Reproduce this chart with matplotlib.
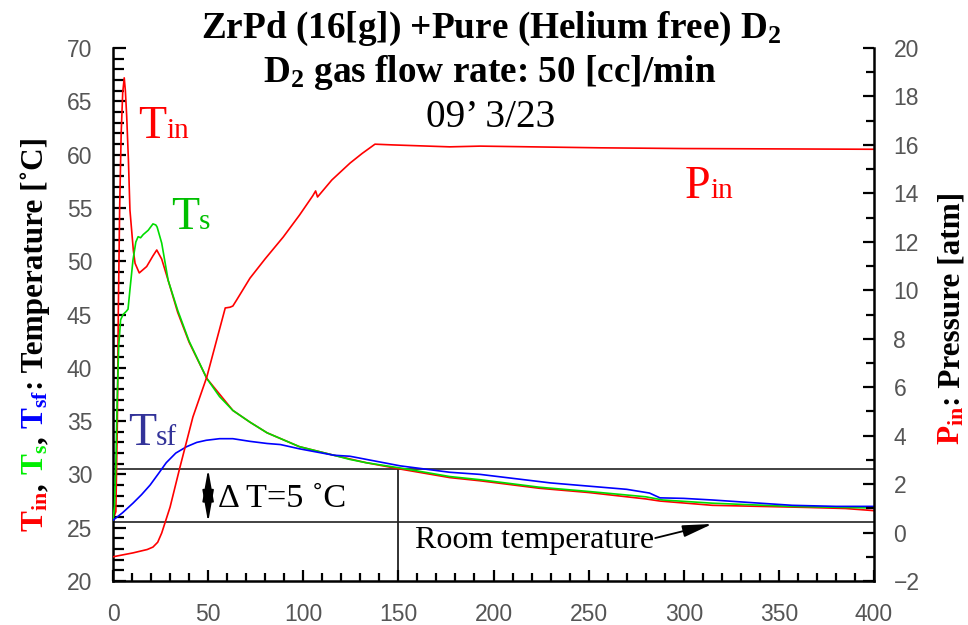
import matplotlib
matplotlib.use("Agg")
import matplotlib.pyplot as plt
from matplotlib.ticker import MultipleLocator

plt.rcParams['mathtext.fontset'] = 'custom'
plt.rcParams['mathtext.rm'] = 'Liberation Serif'
plt.rcParams['mathtext.bf'] = 'Liberation Serif:bold'
plt.rcParams['mathtext.it'] = 'Liberation Serif:italic'

# ---------------- data ----------------
t_in_time = [0, 1.5, 2.3, 2.8, 3.5, 4.3, 5.1, 5.9, 6.5, 7.2, 8.1, 8.9, 10.7, 11.6, 13.8,
             17.7, 21, 23, 25.6, 29, 34, 40, 49.3, 63, 72, 81, 98, 116, 133, 151, 177,
             193, 224, 250, 280, 287.5, 315, 340, 365, 385, 400]
t_in_vals = [25.8, 26.5, 35, 45.4, 55, 62, 65.8, 67.2, 66, 63.6, 59.5, 54.8, 51, 49.8, 48.9,
             49.5, 50.5, 51.05, 50.2, 48.2, 45.2, 42.4, 39.0, 36.0, 34.9, 33.9, 32.6, 31.8, 31.1,
             30.5, 29.7, 29.4, 28.7, 28.3, 27.7, 27.5, 27.1, 27.0, 26.9, 26.8, 26.6]

t_s_time = [0, 0.8, 1.5, 2.2, 3, 4, 5.3, 7, 7.9, 9, 10.5, 12, 13.2, 14.5, 15.9, 18.5, 21,
            22.5, 23.2, 25.6, 29, 34, 40, 49.3, 56, 63, 72, 81, 98, 116, 124.6, 133, 151,
            177, 193, 224, 250, 280, 289, 315, 356, 400]
t_s_vals = [25.7, 27, 31, 37, 42, 44.5, 45, 45.3, 45.5, 47.5, 50.1, 51.8, 52.3, 52.2, 52.5,
            52.9, 53.5, 53.4, 53.2, 51.7, 48.2, 45.4, 42.5, 39.0, 37.3, 36.0, 34.9, 33.9, 32.6,
            31.8, 31.4, 31.1, 30.6, 29.8, 29.5, 28.8, 28.4, 27.9, 27.6, 27.3, 27.0, 26.85]

t_sf_time = [0, 5, 10.5, 15, 19.5, 24, 28, 33, 38.7, 44, 49, 56, 63, 72, 81, 88, 98, 116,
             124.6, 151, 177, 193, 230, 250, 270, 282, 287.5, 300, 315, 340, 357, 380, 400]
t_sf_vals = [25.7, 26.4, 27.3, 28.1, 29.0, 30.1, 31.1, 32.0, 32.6, 33.0, 33.2, 33.35, 33.35,
             33.1, 32.9, 32.8, 32.4, 31.8, 31.7, 30.8, 30.2, 30.0, 29.2, 28.9, 28.6, 28.25, 27.8,
             27.75, 27.6, 27.3, 27.1, 27.0, 27.0]

p_in_time = [0, 10.5, 18, 21, 23.5, 25.6, 30, 35.2, 42, 49.3, 54.5, 59, 61.5, 63, 65, 72,
             80, 89.5, 98, 105, 106.5, 107.5, 115, 124.6, 131, 137.7, 147, 177, 193, 256,
             300, 400]
p_in_vals = [-1.0, -0.84, -0.7, -0.6, -0.4, -0.02, 1.05, 2.7, 4.77, 6.42, 7.95, 9.27, 9.3,
             9.35, 9.6, 10.5, 11.3, 12.2, 13.1, 13.9, 14.1, 13.85, 14.55, 15.25, 15.65, 16.03,
             16.0, 15.92, 15.95, 15.88, 15.85, 15.82]

room_temp = 25.5
upper_temp = 30.5
marker_time = 150

# ---------------- figure ----------------
fig = plt.figure(figsize=(9.68, 6.25), dpi=100)
ax = fig.add_axes([113/968, 1-581/625, (874-113)/968, (581-48)/625])
ax2 = ax.twinx()

lw = 1.2
ax.plot(t_s_time, t_s_vals, color='#00dd00', lw=lw, zorder=3)
ax.plot(t_in_time, t_in_vals, color='#ff0000', lw=lw, zorder=2)
ax.plot(t_sf_time, t_sf_vals, color='#0000ff', lw=lw, zorder=4)
ax2.plot(p_in_time, p_in_vals, color='#ff0000', lw=lw)

ax.set_xlim(0, 400)
ax.set_ylim(20, 70)
ax2.set_ylim(-2, 20)

ax.axhline(upper_temp, color='#333333', lw=1.3, zorder=1)
ax.axhline(room_temp, color='#333333', lw=1.3, zorder=1)
ax.plot([marker_time, marker_time], [20, upper_temp], color='#222222', lw=1.3, zorder=1)

ax.xaxis.set_major_locator(MultipleLocator(50))
ax.xaxis.set_minor_locator(MultipleLocator(10))
ax.yaxis.set_major_locator(MultipleLocator(5))
ax.yaxis.set_minor_locator(MultipleLocator(1))
ax2.yaxis.set_major_locator(MultipleLocator(2))
ax2.yaxis.set_minor_locator(MultipleLocator(1))

for a in (ax, ax2):
    a.spines['top'].set_visible(False)
    for s in a.spines.values():
        s.set_linewidth(1.8)
ax2.spines['left'].set_visible(False)
ax2.spines['bottom'].set_visible(False)
ax.spines['right'].set_visible(False)

tick_col = '#555555'
ax.tick_params(axis='y', which='major', direction='in', length=9, width=1.6, pad=15,
               labelcolor=tick_col, labelsize=16.5)
ax.tick_params(axis='y', which='minor', direction='in', length=8, width=1.6)
ax.tick_params(axis='x', which='major', direction='in', length=8, width=1.6, pad=16,
               labelcolor=tick_col, labelsize=16.5)
ax.tick_params(axis='x', which='minor', direction='in', length=6, width=1.6)
ax2.tick_params(axis='y', which='major', direction='in', length=8, width=1.6, pad=14,
                labelcolor=tick_col, labelsize=16.5)
ax2.tick_params(axis='y', which='minor', direction='in', length=6, width=1.6)
for lab in ax.get_xticklabels() + ax.get_yticklabels() + ax2.get_yticklabels():
    lab.set_fontfamily('Liberation Sans')

# ---------------- titles ----------------
serif = 'Liberation Serif'
fig.text(0.507, 1-38/625, r'ZrPd (16[g]) +Pure (Helium free) D$_{\mathbf{2}}$', ha='center',
         va='baseline', family=serif, weight='bold', size=26.8)
fig.text(0.506, 1-82/625, r'D$_{\mathbf{2}}$ gas flow rate: 50 [cc]/min', ha='center',
         va='baseline', family=serif, weight='bold', size=26.8)
fig.text(0.507, 1-127/625, '09\u2019 3/23', ha='center', va='baseline', family=serif,
         size=28.4)

# ---------------- rotated multi-colour axis labels ----------------
def chain(x_px, y_start_px, pieces, size):
    renderer = fig.canvas.get_renderer()
    y = y_start_px
    for txt, col in pieces:
        t = fig.text(x_px/968, y/625, txt, color=col, rotation=90, rotation_mode='anchor',
                     ha='left', va='baseline', family=serif, weight='bold', size=size)
        bb = t.get_window_extent(renderer)
        y = bb.y1 * 625 / fig.bbox.height

chain(43, 625-532, [(r'$\mathbf{T}_{\mathbf{in}}$', '#ff0000'), (', ', 'black'),
                     (r'$\mathbf{T}_{\mathbf{s}}$', '#00ee00'), (', ', 'black'),
                     (r'$\mathbf{T}_{\mathbf{sf}}$', '#0000ff'),
                     (': Temperature [\u02daC]', 'black')], 22.5)
chain(960, 625-445, [(r'$\mathbf{P}_{\mathbf{in}}$', '#ff0000'),
                      (': Pressure [atm]', 'black')], 22.5)

# ---------------- in-plot labels ----------------
def two_part(x, y, big, small, col, trans_ax):
    t = trans_ax.text(x, y, big, color=col, family=serif, size=33, ha='left', va='baseline')
    trans_ax.annotate(small, xy=(1, y), xycoords=(t, 'data'), color=col, family=serif,
                      size=21, ha='left', va='baseline')

two_part(13.1, 61.55, 'T', 'in', '#ff0000', ax)
two_part(30.5, 53.0, 'T', 's', '#00c000', ax)
two_part(7.9, 32.76, 'T', 'sf', '#333399', ax)
two_part(300.6, 55.9, 'P', 'in', '#ff0000', ax)

ax.annotate('', xy=(50, upper_temp), xytext=(50, room_temp),
            arrowprops=dict(arrowstyle='<|-|>,head_length=0.9,head_width=0.16', color='black',
                            lw=1.3, shrinkA=0, shrinkB=0, mutation_scale=22))
ax.text(55.2, 26.94, '\u0394 T=5 \u02daC', family=serif, size=24.7, ha='left', va='baseline')
ax.text(159, 23.1, 'Room temperature', family=serif, size=23, ha='left', va='baseline')
ax.annotate('', xy=(315, 25.35), xytext=(285, 24.03),
            arrowprops=dict(arrowstyle='-|>,head_length=0.9,head_width=0.18', color='black',
                            lw=1.3, shrinkA=0, shrinkB=0, mutation_scale=20))

fig.savefig('out.png', dpi=100)
